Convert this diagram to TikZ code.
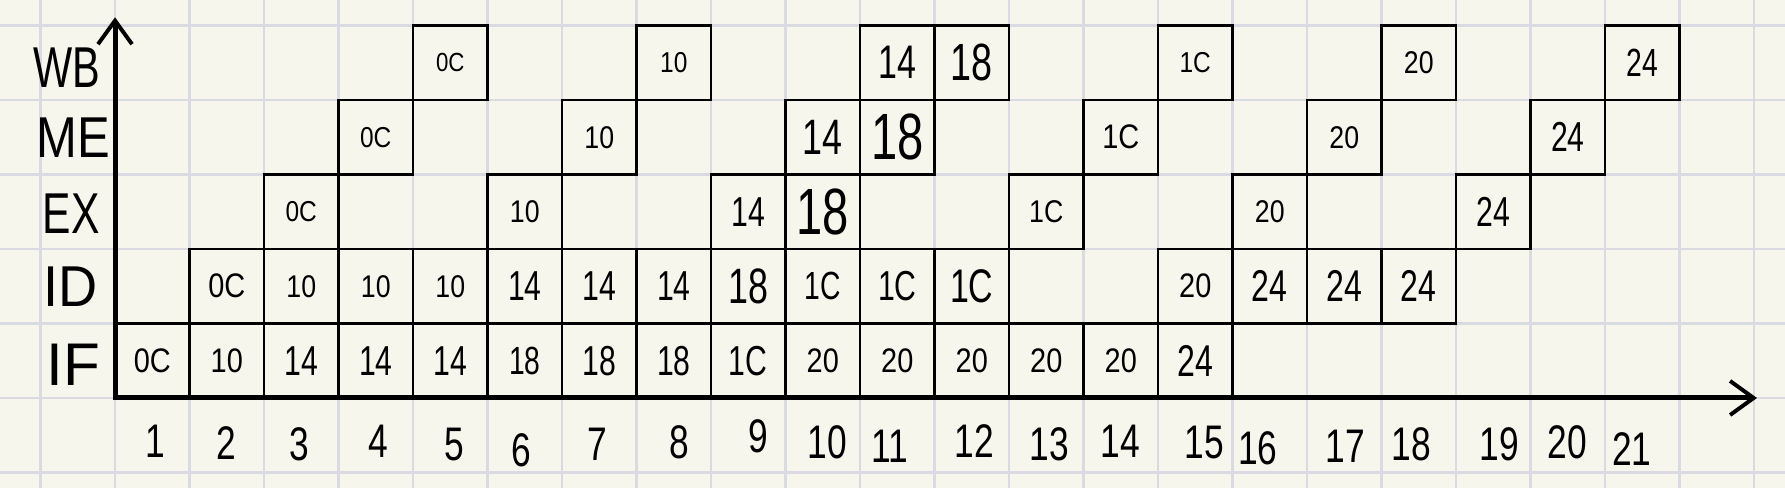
\documentclass[tikz,border=0pt]{standalone}
\usepackage{fontspec}
\setmainfont{Liberation Sans}
\usetikzlibrary{arrows.meta}
\definecolor{paper}{RGB}{247,246,237}
\definecolor{gridc}{RGB}{218,218,226}
\newcommand{\hw}[3]{{\fontsize{#1}{#1}\selectfont\scalebox{#2}[1]{#3}}}
\newcommand{\bl}[2]{\ifnum#1<14\relax\hw{#1}{0.85}{#2}\else\hw{#1}{0.72}{#2}\fi}
\begin{document}
\begin{tikzpicture}[
  box/.style={draw=black, line width=1pt, minimum width=1cm, minimum height=1cm, inner sep=0pt, outer sep=0pt},
  stagelbl/.style={inner sep=0pt},
  cyclbl/.style={inner sep=0pt},
  axisline/.style={line width=1.9pt, line join=miter,
    {Straight Barb[length=9pt,width=13pt,line width=1.5pt]}-{Straight Barb[length=9pt,width=13pt,line width=1.5pt]}}
]
\fill[paper] (-1.544,-1.208) rectangle (22.416,5.342);
\useasboundingbox (-1.544,-1.208) rectangle (22.416,5.342);
\draw[gridc, line width=1.1pt] (-1.544,-1.208) grid (22.416,5.342);

% pipeline boxes: cycle / row / size / text
\foreach \c/\r/\s/\t in {
  1/0/13/0C, 2/0/13/10, 3/0/16/14, 4/0/16/14, 5/0/16/14, 6/0/15/18, 7/0/16/18, 8/0/16/18,
  9/0/16/1C, 10/0/13/20, 11/0/13/20, 12/0/13/20, 13/0/13/20, 14/0/13/20, 15/0/17/24,
  2/1/13/0C, 3/1/12/10, 4/1/12/10, 5/1/12/10, 6/1/16/14, 7/1/16/14, 8/1/16/14, 9/1/19/18,
  10/1/15/1C, 11/1/16/1C, 12/1/18/1C, 15/1/13/20, 16/1/17/24, 17/1/17/24, 18/1/17/24,
  3/2/11/0C, 6/2/12/10, 9/2/16/14, 10/2/25/18, 13/2/12/1C, 16/2/12/20, 19/2/16/24,
  4/3/11/0C, 7/3/12/10, 10/3/19/14, 11/3/25/18, 14/3/13/1C, 17/3/12/20, 20/3/16/24,
  5/4/10/0C, 8/4/11/10, 11/4/18/14, 12/4/20/18, 15/4/11/1C, 18/4/12/20, 21/4/15/24}
  \node[box] (n\r-\c) at (\c-0.5,\r+0.5) {\bl{\s}{\t}};

% stage labels
\node[stagelbl] (sWB) at (-0.65,4.43) {\hw{22}{0.72}{WB}};
\node[stagelbl] (sME) at (-0.56,3.50) {\hw{22}{0.85}{ME}};
\node[stagelbl] (sEX) at (-0.59,2.48) {\hw{22}{0.74}{EX}};
\node[stagelbl] (sID) at (-0.60,1.50) {\hw{22}{0.94}{ID}};
\node[stagelbl] (sIF) at (-0.56,0.44) {\hw{23}{1.0}{IF}};

% cycle numbers
\foreach \n/\x/\y in {1/0.54/-0.58, 2/1.49/-0.6, 3/2.48/-0.62, 4/3.54/-0.58, 5/4.56/-0.62,
  6/5.46/-0.7, 7/6.47/-0.62, 8/7.58/-0.6, 9/8.63/-0.52, 10/9.56/-0.6, 11/10.40/-0.65,
  12/11.53/-0.58, 13/12.54/-0.62, 14/13.49/-0.58, 15/14.62/-0.6, 16/15.34/-0.68,
  17/16.51/-0.65, 18/17.40/-0.62, 19/18.58/-0.62, 20/19.49/-0.6, 21/20.36/-0.68}
  \node[cyclbl] (cy\n) at (\x,\y) {\hw{18}{0.75}{\n}};

% axes
\coordinate (O) at (0,0);
\coordinate (ytip) at (0,5.11);
\coordinate (xtip) at (22.04,0);
\draw[axisline] (ytip) -- (O) -- (xtip);
\end{tikzpicture}
\end{document}
